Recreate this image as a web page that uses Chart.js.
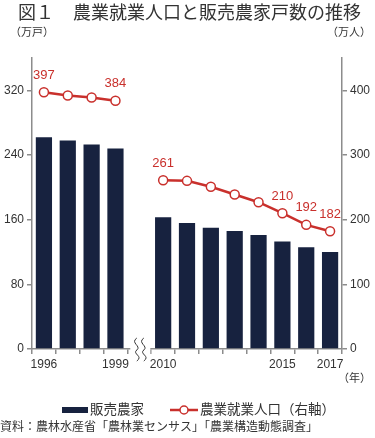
<!DOCTYPE html>
<html>
<head>
<meta charset="utf-8">
<script src="https://cdn.jsdelivr.net/npm/chart.js@4/dist/chart.umd.min.js"></script>
<style>
  html, body { margin: 0; padding: 0; background: #fff; }
  #wrap { width: 375px; height: 438px; position: relative; }
</style>
</head>
<body>
<div id="wrap"><canvas id="farmChart" width="375" height="438"></canvas></div>
<script>
// 年（空欄は軸の省略部分）
const years = ["1996", "1997", "1998", "1999", "", "2010", "2011", "2012", "2013", "2014", "2015", "2016", "2017"];
// 販売農家（万戸）
const farmHouseholds = [262, 258, 253, 248, null, 163, 156, 150, 146, 141, 133, 126, 120];
// 農業就業人口（万人）
const farmWorkers = [397, 392, 389, 384, null, 261, 260, 251, 239, 227, 210, 192, 182];
const shownYears = ["1996", "1999", "2010", "2015", "2017"];
const labeledYears = ["1996", "1999", "2010", "2015", "2016", "2017"];
const leftTicks = [0, 80, 160, 240, 320];
const rightTicks = [0, 100, 200, 300, 400];

const FONT = "'Liberation Sans', 'Noto Sans CJK JP', sans-serif";
const NAVY = "#17223f";
const RED = "#c9302c";
const AXIS = "#8c8c8c";
const TEXT = "#333";

const extras = {
  id: "extras",
  afterDatasetsDraw(chart) {
    const ctx = chart.ctx;
    const area = chart.chartArea;
    const x = chart.scales.x;
    ctx.save();

    // data labels
    const meta = chart.getDatasetMeta(1);
    ctx.fillStyle = RED;
    ctx.font = "13px " + FONT;
    ctx.textAlign = "center";
    ctx.textBaseline = "middle";
    years.forEach((y, i) => {
      if (!labeledYears.includes(y)) return;
      const p = meta.data[i];
      ctx.fillText(String(farmWorkers[i]), p.x, p.y - 17);
    });

    // axis break
    const bx = (x.getPixelForValue(3) + x.getPixelForValue(5)) / 2 + 1;
    const by = area.bottom;
    ctx.fillStyle = "#fff";
    ctx.fillRect(bx - 10, by - 3, 20, 9);
    ctx.strokeStyle = "#333";
    ctx.lineWidth = 1;
    [-3.5, 3.5].forEach(dx => {
      const cx = bx + dx;
      ctx.beginPath();
      ctx.moveTo(cx, by - 11);
      ctx.bezierCurveTo(cx - 7, by - 6, cx + 5, by - 3, cx, by + 1);
      ctx.bezierCurveTo(cx - 5, by + 5, cx + 7, by + 7, cx, by + 12);
      ctx.stroke();
    });

    // title and unit texts
    ctx.fillStyle = TEXT;
    ctx.textAlign = "left";
    ctx.textBaseline = "middle";
    ctx.font = "18px " + FONT;
    ctx.fillText("図１", 18, 14);
    ctx.fillText("農業就業人口と販売農家戸数の推移", 73, 14);
    ctx.font = "11px " + FONT;
    ctx.fillText("（万戸）", 10, 33);
    ctx.textAlign = "right";
    ctx.fillText("（万人）", 371, 33);
    ctx.fillText("（年）", 371, 379);

    // legend
    const ds = chart.data.datasets;
    ctx.textAlign = "left";
    ctx.font = "13.5px " + FONT;
    ctx.fillStyle = ds[0].backgroundColor;
    ctx.fillRect(62, 407, 26, 6);
    ctx.fillStyle = TEXT;
    ctx.fillText(ds[0].label, 90, 410);
    ctx.strokeStyle = ds[1].borderColor;
    ctx.lineWidth = 2.5;
    ctx.beginPath();
    ctx.moveTo(170, 410);
    ctx.lineTo(198, 410);
    ctx.stroke();
    ctx.beginPath();
    ctx.arc(184, 410, 4, 0, Math.PI * 2);
    ctx.fillStyle = "#fff";
    ctx.fill();
    ctx.lineWidth = 1.5;
    ctx.stroke();
    ctx.fillStyle = TEXT;
    ctx.fillText(ds[1].label, 200, 410);

    // source
    ctx.font = "12px " + FONT;
    ctx.fillText("資料：農林水産省「農林業センサス」「農業構造動態調査」", 0, 428);
    ctx.restore();
  }
};

new Chart(document.getElementById("farmChart"), {
  type: "bar",
  data: {
    labels: years,
    datasets: [
      {
        label: "販売農家",
        data: farmHouseholds,
        backgroundColor: NAVY,
        barPercentage: 0.68,
        categoryPercentage: 1,
        yAxisID: "y",
        order: 2
      },
      {
        type: "line",
        label: "農業就業人口（右軸）",
        data: farmWorkers,
        borderColor: RED,
        borderWidth: 2.5,
        pointRadius: 4.5,
        pointBorderWidth: 1.5,
        pointBackgroundColor: "#fff",
        pointBorderColor: RED,
        spanGaps: false,
        yAxisID: "y1",
        order: 1
      }
    ]
  },
  options: {
    responsive: false,
    animation: false,
    layout: { padding: { top: 58, left: 0, right: 0, bottom: 0 } },
    plugins: { legend: { display: false }, tooltip: { enabled: false } },
    scales: {
      x: {
        offset: true,
        grid: { display: true, offset: true, drawOnChartArea: false, drawTicks: true, tickLength: 5, color: AXIS, lineWidth: 1.5 },
        border: { display: true, color: AXIS, width: 1.5 },
        ticks: {
          autoSkip: false,
          maxRotation: 0,
          padding: 3,
          color: TEXT,
          font: { family: FONT, size: 12 },
          callback: function (v, i) { return shownYears.includes(years[i]) ? years[i] : ""; }
        },
        afterFit: s => { s.height = 89; }
      },
      y: {
        position: "left",
        min: 0,
        max: 360,
        afterBuildTicks: s => { s.ticks = leftTicks.map(v => ({ value: v })); },
        grid: { display: true, drawOnChartArea: false, tickLength: 5, color: AXIS, lineWidth: 1.5 },
        border: { display: true, color: AXIS, width: 1.5 },
        ticks: { padding: 3, color: TEXT, font: { family: FONT, size: 12 } },
        afterFit: s => { s.width = 32; }
      },
      y1: {
        position: "right",
        min: 0,
        max: 450,
        afterBuildTicks: s => { s.ticks = rightTicks.map(v => ({ value: v })); },
        grid: { display: true, drawOnChartArea: false, tickLength: 5, color: AXIS, lineWidth: 1.5 },
        border: { display: true, color: AXIS, width: 1.5 },
        ticks: { padding: 3, color: TEXT, font: { family: FONT, size: 12 } },
        afterFit: s => { s.width = 33; }
      }
    }
  },
  plugins: [extras]
});
</script>
</body>
</html>
